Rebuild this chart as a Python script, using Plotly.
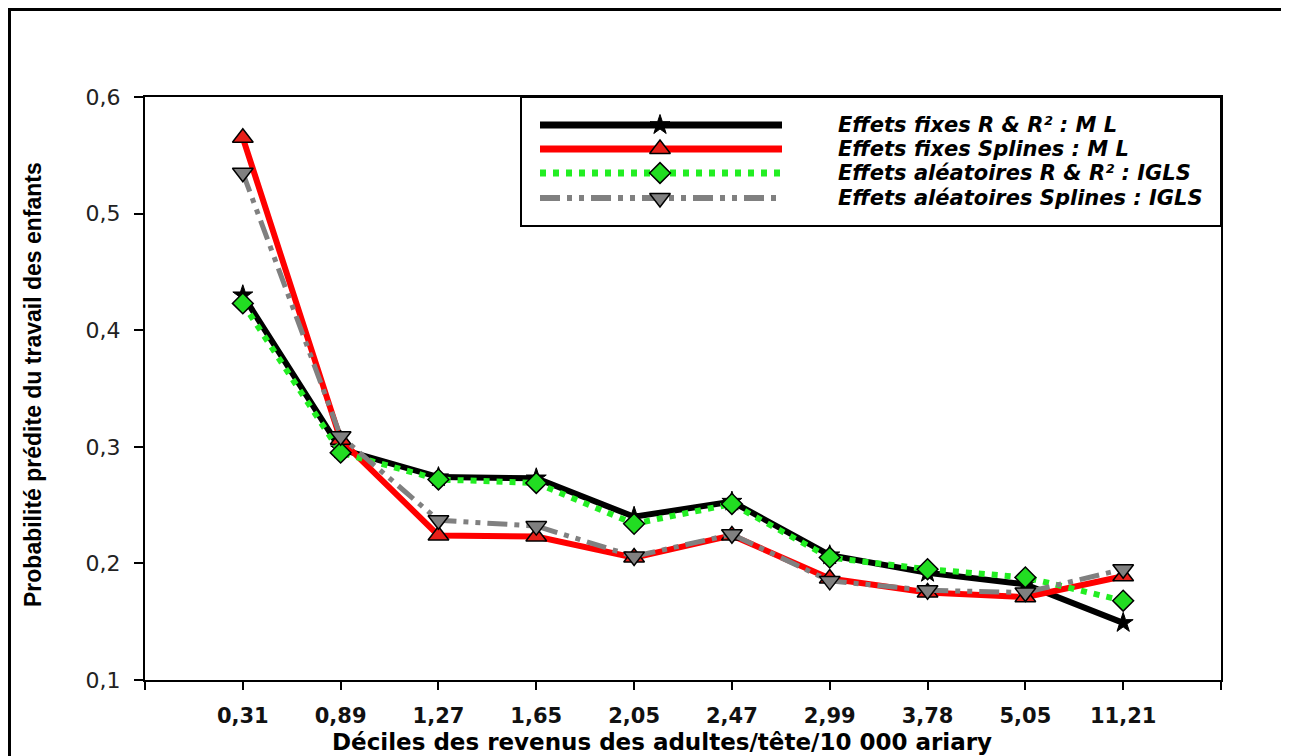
import plotly.graph_objects as go

# ---------------- data ----------------
categories = ["0,31", "0,89", "1,27", "1,65", "2,05", "2,47", "2,99", "3,78", "5,05", "11,21"]
fixes_rr2_ml = [0.430, 0.298, 0.274, 0.273, 0.240, 0.253, 0.207, 0.192, 0.182, 0.149]
fixes_splines_ml = [0.565, 0.306, 0.224, 0.223, 0.205, 0.224, 0.187, 0.175, 0.171, 0.189]
alea_rr2_igls = [0.423, 0.295, 0.272, 0.269, 0.234, 0.251, 0.205, 0.195, 0.188, 0.168]
alea_splines_igls = [0.535, 0.309, 0.237, 0.232, 0.206, 0.225, 0.185, 0.177, 0.175, 0.195]
series_names = [
    "Effets fixes R & R² : M L",
    "Effets fixes Splines : M L",
    "Effets aléatoires R & R² : IGLS",
    "Effets aléatoires Splines : IGLS",
]
y_ticks = [0.1, 0.2, 0.3, 0.4, 0.5, 0.6]

# ---------------- layout geometry (figure px; page body adds 8px offset) ----------------
W, H = 1281, 748
L, T = 137, 89
PW, PH = 1076, 583
R, B = W - L - PW, H - T - PH

styles = [
    dict(line=dict(color="black", width=6), marker=dict(symbol="star", size=15, color="black",
                                                          line=dict(color="black", width=1))),
    dict(line=dict(color="#ff0000", width=6), marker=dict(symbol="triangle-up", size=18, color="#e8201a",
                                                            line=dict(color="black", width=1.5))),
    dict(line=dict(color="#22ee22", width=6, dash="6px,7px"),
         marker=dict(symbol="diamond", size=16, color="#22dd22", line=dict(color="black", width=1.5))),
    dict(line=dict(color="#808080", width=5, dash="20px,7px,5px,7px,5px,7px"),
         marker=dict(symbol="triangle-down", size=18, color="#808080", line=dict(color="black", width=1.5))),
]
values = [fixes_rr2_ml, fixes_splines_ml, alea_rr2_igls, alea_splines_igls]

x_idx = list(range(len(categories)))

fig = go.Figure()
for name, vals, st in zip(series_names, values, styles):
    fig.add_trace(go.Scatter(x=x_idx, y=vals, mode="lines+markers", name=name,
                             line=st["line"], marker=st["marker"], showlegend=False,
                             cliponaxis=False))

# ---------------- manual legend (pixel overlay axes) ----------------
box_left, box_bottom = 513, 218
row_y = [117, 141, 165, 190]
sample_x0, sample_x1, marker_x = 532, 774, 652
text_x = 828
for i, (name, st) in enumerate(zip(series_names, styles)):
    yy = row_y[i] - T
    lw = dict(st["line"])
    lw["width"] = lw["width"] + 1
    fig.add_trace(go.Scatter(x=[sample_x0 - L, sample_x1 - L], y=[yy, yy], mode="lines",
                             line=lw, xaxis="x2", yaxis="y2", showlegend=False,
                             hoverinfo="skip"))
    fig.add_trace(go.Scatter(x=[marker_x - L], y=[yy], mode="markers", marker=st["marker"],
                             xaxis="x2", yaxis="y2", showlegend=False, hoverinfo="skip"))
    fig.add_annotation(x=(text_x - L) / PW, y=1 - (row_y[i] - T) / PH, xref="paper", yref="paper",
                       text="<b><i>%s</i></b>" % name, showarrow=False, xanchor="left", yanchor="middle",
                       font=dict(family="DejaVu Sans", size=21, color="black"))

shapes = [
    # legend box
    dict(type="rect", xref="paper", yref="paper",
         x0=(box_left - L) / PW, x1=1.0, y0=1 - (box_bottom - T) / PH, y1=1.0,
         line=dict(color="black", width=2), fillcolor="white", layer="below"),
    # outer frame
    dict(type="rect", xref="paper", yref="paper",
         x0=(1.5 - L) / PW, x1=(W + 30 - L) / PW, y0=-(H + 30 - (T + PH)) / PH, y1=1 + (T - 1.5) / PH,
         line=dict(color="black", width=3), fillcolor="rgba(0,0,0,0)", layer="above"),
]

fig.update_layout(
    width=W, height=H,
    margin=dict(l=L, r=R, t=T, b=B),
    paper_bgcolor="white", plot_bgcolor="white",
    separators=", ",
    shapes=shapes,
    showlegend=False,
    xaxis=dict(range=[-1, 10], tickmode="array", tickvals=list(range(-1, 11)),
               ticktext=[""] + categories + [""], ticks="outside", ticklen=8, tickwidth=2,
               tickcolor="black", showline=True, linecolor="black", linewidth=2, mirror=True,
               showgrid=False, zeroline=False, ticklabelstandoff=8,
               tickfont=dict(family="DejaVu Sans", size=21, color="#111111", weight="bold")),
    yaxis=dict(range=[0.1, 0.6], tickmode="array", tickvals=y_ticks, tickformat=".1f",
               ticks="outside", ticklen=9, tickwidth=2, tickcolor="black",
               showline=True, linecolor="black", linewidth=2, mirror=True,
               showgrid=False, zeroline=False, ticklabelstandoff=9,
               tickfont=dict(family="DejaVu Sans", size=22, color="#222222")),
    xaxis2=dict(overlaying="x", range=[0, PW], visible=False, fixedrange=True),
    yaxis2=dict(overlaying="y", range=[PH, 0], visible=False, fixedrange=True),
)

# axis titles
fig.add_annotation(x=(654 - L) / PW, y=-(734 - (T + PH)) / PH, xref="paper", yref="paper",
                   text="<b>Déciles des revenus des adultes/tête/10 000 ariary</b>", showarrow=False,
                   xanchor="center", yanchor="middle",
                   font=dict(family="DejaVu Sans", size=23, color="black"))
fig.add_annotation(x=-(L - 25) / PW, y=1 - (377 - T) / PH, xref="paper", yref="paper",
                   text="<b>Probabilité prédite du travail des enfants</b>", showarrow=False,
                   textangle=-90, xanchor="center", yanchor="middle",
                   font=dict(family="Liberation Sans", size=23, color="black"))

fig.write_html("out.html")
